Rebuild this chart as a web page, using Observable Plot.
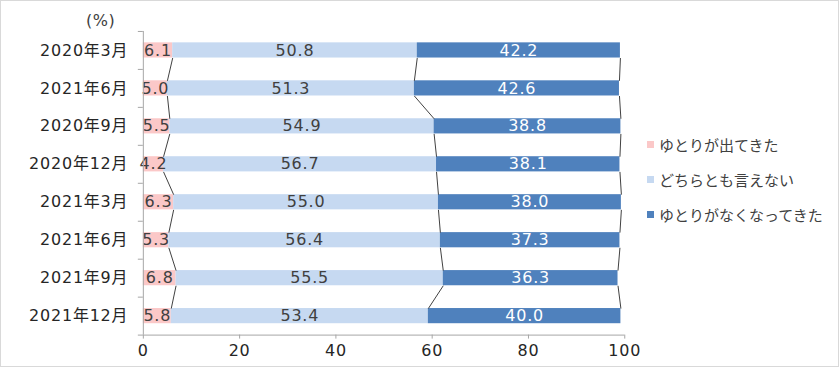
<!DOCTYPE html>
<html><head><meta charset="utf-8">
<script src="https://cdn.jsdelivr.net/npm/d3@7"></script>
<script src="https://cdn.jsdelivr.net/npm/@observablehq/plot@0.6"></script>
<style>
body{margin:0;background:#fff;font-family:"DejaVu Sans","Noto Sans CJK JP",sans-serif;}
#wrap{position:relative;width:839px;height:367px;box-sizing:border-box;border:1px solid #d9d9d9;overflow:hidden;}
#chart{position:absolute;left:-1px;top:-1px;}
.unit{position:absolute;left:85px;top:10px;font-size:16px;color:#404040;letter-spacing:0.5px;}
.legend{position:absolute;left:646px;top:126px;font-size:15px;color:#404040;font-family:"Noto Sans CJK JP",sans-serif;}
.legend div{height:35px;line-height:20px;display:flex;align-items:center;}
.legend div span.sw{display:inline-block;width:7px;height:7px;margin-right:5px;}
</style></head>
<body>
<div id="wrap">
  <div id="chart"></div>
  <div class="unit">(%)</div>
  <div class="legend" id="legend"></div>
</div>
<script>
const categories = ["2020年3月","2021年6月","2020年9月","2020年12月","2021年3月","2021年6月","2021年9月","2021年12月"];
const seriesNames = ["ゆとりが出てきた","どちらとも言えない","ゆとりがなくなってきた"];
const emerged = [6.1,5.0,5.5,4.2,6.3,5.3,6.8,5.8];
const neutral = [50.8,51.3,54.9,56.7,55.0,56.4,55.5,53.4];
const lost = [42.2,42.6,38.8,38.1,38.0,37.3,36.3,40.0];
const xTicks = [0,20,40,60,80,100];
const colors = ["#fbc8c8","#c6d9f1","#4f81bd"];
const labelColors = ["#404040","#404040","#ffffff"];

const series = [emerged, neutral, lost];
const h = 0.2;
const segs = [];
const cums = categories.map(() => []);
categories.forEach((c, i) => {
  let acc = 0;
  series.forEach((vals, s) => {
    const v = vals[i];
    segs.push({i, s, x1: acc, x2: acc + v, v});
    acc += v;
    cums[i].push(acc);
  });
});
const links = [];
for (let i = 0; i < categories.length - 1; i++) {
  for (let k = 0; k < 3; k++) {
    links.push({x1: cums[i][k], y1: i + h, x2: cums[i+1][k], y2: i + 1 - h});
  }
}
const boundaries = d3.range(categories.length + 1).map(d => d - 0.5);
const centers = d3.range(categories.length);

const plot = Plot.plot({
  width: 839, height: 367,
  marginLeft: 143, marginRight: 214, marginTop: 31, marginBottom: 32,
  style: {fontFamily: '"DejaVu Sans","Noto Sans CJK JP",sans-serif', fontSize: "16px", color: "#404040", background: "transparent", letterSpacing: "0.8px"},
  x: {domain: [0, 100], axis: null},
  y: {domain: [categories.length - 0.5, -0.5], axis: null},
  marks: [
    Plot.rect(segs, {x1: "x1", x2: "x2", y1: d => d.i - h, y2: d => d.i + h, fill: d => colors[d.s]}),
    Plot.link(links, {x1: "x1", y1: "y1", x2: "x2", y2: "y2", stroke: "#404040", strokeWidth: 1}),
    Plot.text(segs, {x: d => (d.x1 + d.x2) / 2, y: "i", text: d => d.v.toFixed(1), fill: d => labelColors[d.s], fontSize: 16}),
    Plot.ruleX([0], {stroke: "#a6a6a6"}),
    Plot.ruleY([categories.length - 0.5], {stroke: "#a6a6a6"}),
    Plot.axisY(boundaries, {tickSize: 5, tickFormat: () => "", stroke: "#a6a6a6"}),
    Plot.axisY(centers, {tickSize: 0, tickPadding: 15, tickFormat: d => categories[d], fontSize: 16, fill: "#262626"}),
    Plot.axisX(xTicks, {tickSize: 4, tickPadding: 6, fontSize: 16, stroke: "#a6a6a6", fill: "#262626"})
  ]
});
document.getElementById("chart").appendChild(plot);

const lg = document.getElementById("legend");
seriesNames.forEach((n, s) => {
  const row = document.createElement("div");
  row.innerHTML = `<span class="sw" style="background:${colors[s]}"></span><span>${n}</span>`;
  lg.appendChild(row);
});
</script>
</body></html>
